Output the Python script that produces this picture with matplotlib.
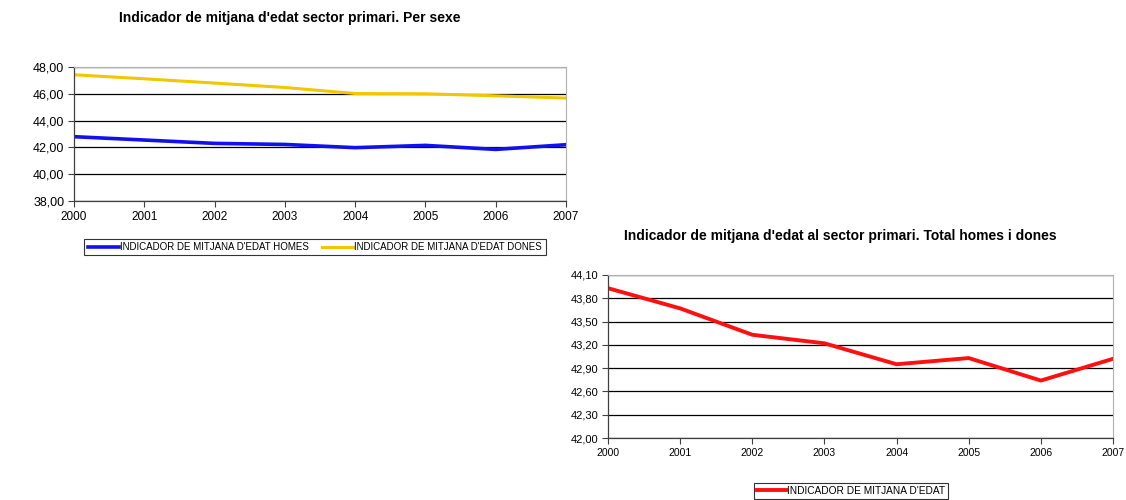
import numpy as np
import matplotlib.pyplot as plt

# data
years = [2000, 2001, 2002, 2003, 2004, 2005, 2006, 2007]
homes = [42.80, 42.55, 42.30, 42.22, 41.98, 42.15, 41.85, 42.20]
dones = [47.42, 47.12, 46.80, 46.47, 46.02, 46.00, 45.85, 45.68]
total = [43.93, 43.67, 43.33, 43.22, 42.95, 43.03, 42.74, 43.02]

ticks1 = [38, 40, 42, 44, 46, 48]
ticks2 = [42.0, 42.3, 42.6, 42.9, 43.2, 43.5, 43.8, 44.1]

plt.rcParams['font.family'] = ['Liberation Sans', 'DejaVu Sans']

fig = plt.figure(figsize=(11.26, 5.0), dpi=100)
fig.patch.set_facecolor('white')


def fmt(v):
    return f'{v:.2f}'.replace('.', ',')


def style(ax, yticks, lab_size):
    ax.set_xlim(years[0], years[-1])
    ax.set_ylim(yticks[0], yticks[-1])
    ax.set_xticks(years)
    ax.set_xticklabels([str(y) for y in years], fontsize=lab_size - 0.5)
    ax.set_yticks(yticks)
    ax.set_yticklabels([fmt(v) for v in yticks], fontsize=lab_size)
    ax.yaxis.grid(True, color='black', linewidth=0.9)
    ax.set_axisbelow(True)
    for s in ['top', 'right']:
        ax.spines[s].set_color('#b0b0b0')
        ax.spines[s].set_linewidth(0.8)
    for s in ['left', 'bottom']:
        ax.spines[s].set_color('#404040')
        ax.spines[s].set_linewidth(0.9)
    ax.tick_params(axis='both', direction='out', length=4, width=0.8,
                   color='#404040', pad=3)


# chart 1: by sex
ax1 = fig.add_axes([74 / 1126, 1 - 201 / 500, 492 / 1126, 134 / 500])
ax1.plot(years, homes, color='#1010f0', linewidth=2.6,
         label="INDICADOR DE MITJANA D'EDAT HOMES")
ax1.plot(years, dones, color='#f2c600', linewidth=2.2,
         label="INDICADOR DE MITJANA D'EDAT DONES")
style(ax1, ticks1, 9)
fig.text(290 / 1126, 1 - 18 / 500, "Indicador de mitjana d'edat sector primari. Per sexe",
         ha='center', va='center', fontsize=10, fontweight='bold')
leg1 = ax1.legend(loc='center', bbox_to_anchor=(315 / 1126, 1 - 247 / 500),
                  bbox_transform=fig.transFigure, ncol=2, fontsize=7,
                  frameon=True, fancybox=False, edgecolor='black',
                  handlelength=3.2, handletextpad=0.1, columnspacing=1.4,
                  borderpad=0.35)
leg1.get_frame().set_linewidth(0.8)

# chart 2: total
ax2 = fig.add_axes([608 / 1126, 1 - 438 / 500, 505 / 1126, 163 / 500])
ax2.plot(years, total, color='#ff1010', linewidth=2.8,
         label="INDICADOR DE MITJANA D'EDAT")
style(ax2, ticks2, 8)
fig.text(840 / 1126, 1 - 236 / 500,
         "Indicador de mitjana d'edat al sector primari. Total homes i dones",
         ha='center', va='center', fontsize=10, fontweight='bold')
leg2 = ax2.legend(loc='center', bbox_to_anchor=(851 / 1126, 1 - 491 / 500),
                  bbox_transform=fig.transFigure, fontsize=7.3,
                  frameon=True, fancybox=False, edgecolor='black',
                  handlelength=2.8, handletextpad=0.1, borderpad=0.3)
leg2.get_frame().set_linewidth(0.8)

fig.savefig('out.png', dpi=100, facecolor='white')
